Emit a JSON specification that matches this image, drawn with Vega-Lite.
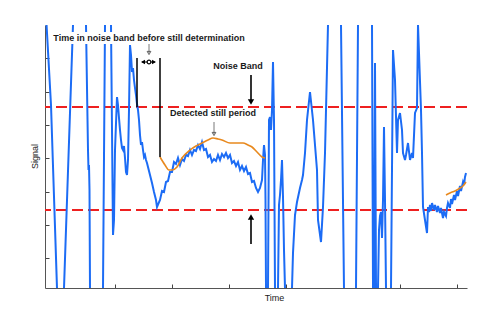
{
  "$schema": "https://vega.github.io/schema/vega-lite/v6.json",
  "width": 422,
  "height": 263,
  "autosize": {"type": "none"},
  "padding": {"left": 45, "top": 25, "right": 33, "bottom": 26},
  "background": "white",
  "config": {
    "view": {"stroke": null},
    "font": "Liberation Sans"
  },
  "datasets": {
    "blue": [
      {"t":1,"s":273},{"t":6,"s":183},{"t":12,"s":0},{"t":13,"s":-12},{"t":17,"s":-12},{"t":19,"s":0},{"t":28,"s":263},{"t":29,"s":275},
      {"t":40,"s":275},{"t":41,"s":263},{"t":43,"s":138},{"t":43.5,"s":118},{"t":44,"s":123},{"t":44.5,"s":98},{"t":45,"s":0},{"t":45.5,"s":-12},
      {"t":57,"s":-12},{"t":58,"s":0},{"t":60,"s":263},{"t":61,"s":275},{"t":65,"s":275},{"t":66,"s":263},{"t":68,"s":53},{"t":69,"s":68},
      {"t":70,"s":138},{"t":72,"s":191},{"t":73,"s":183},{"t":74,"s":170},{"t":75,"s":158},{"t":76,"s":148},{"t":77,"s":140},{"t":78,"s":138},
      {"t":79,"s":142},{"t":80,"s":130},{"t":81,"s":116},{"t":82,"s":113},{"t":83,"s":128},{"t":84,"s":178},{"t":85,"s":243},{"t":86,"s":233},
      {"t":87,"s":216},{"t":88,"s":220},{"t":89,"s":208},{"t":90,"s":200},{"t":91,"s":193},{"t":92,"s":184},{"t":93,"s":178},{"t":94,"s":168},
      {"t":95,"s":153},{"t":96,"s":143},{"t":97,"s":146},{"t":98,"s":138},{"t":99,"s":131},{"t":100,"s":133},{"t":101,"s":128},{"t":102,"s":125},
      {"t":103,"s":121},{"t":105,"s":113},{"t":107,"s":105},{"t":109,"s":96},{"t":111,"s":88},{"t":112,"s":81},
      {"t":115,"s":88},{"t":117,"s":97},{"t":119,"s":96},{"t":121,"s":106},{"t":123,"s":107},{"t":125,"s":116},{"t":127,"s":116},{"t":129,"s":126},
      {"t":131,"s":124},{"t":133,"s":130},{"t":135,"s":123},{"t":137,"s":129},{"t":139,"s":127},{"t":141,"s":133},{"t":143,"s":132},{"t":145,"s":138},
      {"t":147,"s":133},{"t":149,"s":138},{"t":151,"s":137},{"t":153,"s":143},{"t":155,"s":139},{"t":157,"s":146},{"t":159,"s":138},{"t":161,"s":139},
      {"t":163,"s":131},{"t":165,"s":133},{"t":167,"s":126},{"t":169,"s":129},{"t":171,"s":127},{"t":173,"s":133},{"t":175,"s":128},{"t":177,"s":134},
      {"t":179,"s":131},{"t":181,"s":135},{"t":183,"s":130},{"t":185,"s":133},{"t":187,"s":125},{"t":189,"s":127},{"t":191,"s":122},{"t":193,"s":126},
      {"t":195,"s":118},{"t":197,"s":122},{"t":199,"s":117},{"t":201,"s":121},{"t":203,"s":114},{"t":205,"s":115},{"t":207,"s":106},{"t":209,"s":107},
      {"t":211,"s":100},{"t":213,"s":96},{"t":215,"s":100},{"t":217,"s":108},{"t":218,"s":128},{"t":219,"s":143},{"t":220,"s":133},{"t":220.5,"s":88},
      {"t":221,"s":0},{"t":221.5,"s":-12},
      {"t":222,"s":-12},{"t":223,"s":0},{"t":224,"s":168},{"t":225,"s":171},{"t":226,"s":158},{"t":227,"s":178},{"t":228,"s":226},{"t":229,"s":168},
      {"t":230,"s":0},{"t":230.5,"s":-12},{"t":232,"s":-12},{"t":233,"s":0},{"t":234,"s":83},{"t":235,"s":93},{"t":236,"s":108},{"t":237,"s":128},
      {"t":238,"s":91},{"t":239,"s":38},{"t":240,"s":0},{"t":240.5,"s":-12},{"t":246,"s":-12},{"t":247,"s":0},{"t":248,"s":35},{"t":250,"s":73},
      {"t":252,"s":86},{"t":255,"s":100},{"t":257,"s":108},{"t":258,"s":113},{"t":260,"s":135},{"t":262,"s":168},{"t":265,"s":196},{"t":268,"s":168},
      {"t":272,"s":118},{"t":273,"s":68},{"t":276,"s":46},{"t":278,"s":81},{"t":280,"s":135},{"t":283,"s":263},{"t":284,"s":275},
      {"t":295,"s":275},{"t":296,"s":263},{"t":299,"s":0},{"t":299.5,"s":-12},{"t":310,"s":-12},{"t":311,"s":0},{"t":313,"s":263},{"t":314,"s":275},
      {"t":326,"s":275},{"t":327,"s":263},{"t":328,"s":0},{"t":328.5,"s":-12},{"t":329,"s":0},{"t":330,"s":225},{"t":331,"s":0},{"t":331.5,"s":-12},
      {"t":332,"s":-12},{"t":333,"s":0},{"t":334,"s":58},{"t":335,"s":72},{"t":336,"s":76},{"t":337,"s":50},{"t":338,"s":88},{"t":339,"s":161},
      {"t":340,"s":88},{"t":341,"s":0},{"t":341.5,"s":-12},{"t":345,"s":-12},{"t":346,"s":0},{"t":348,"s":238},{"t":350,"s":208},{"t":352,"s":135},
      {"t":353,"s":168},{"t":355,"s":175},{"t":357,"s":158},{"t":358,"s":135},{"t":360,"s":128},{"t":361,"s":133},{"t":363,"s":145},{"t":365,"s":128},
      {"t":367,"s":135},{"t":368,"s":130},{"t":370,"s":175},{"t":372,"s":180},{"t":373,"s":263},{"t":374,"s":235},{"t":376,"s":178},{"t":377,"s":135},
      {"t":378,"s":81},{"t":380,"s":68},{"t":382,"s":55},{"t":383,"s":81},{"t":384,"s":76},{"t":385,"s":83},{"t":386,"s":77},{"t":387,"s":85},
      {"t":389,"s":78},{"t":390,"s":83},{"t":392,"s":76},{"t":393,"s":82},{"t":395,"s":75},{"t":396,"s":80},{"t":398,"s":70},{"t":399,"s":76},
      {"t":401,"s":72},{"t":402,"s":80},{"t":403,"s":85},{"t":405,"s":80},{"t":406,"s":89},{"t":407,"s":84},{"t":409,"s":93},{"t":410,"s":88},
      {"t":412,"s":97},{"t":413,"s":92},{"t":415,"s":102},{"t":416,"s":97},{"t":418,"s":106},{"t":419,"s":103},{"t":420,"s":111},{"t":421,"s":115}
    ],
    "orange": [
      {"seg":1,"t":115,"s":131},{"seg":1,"t":120,"s":123},{"seg":1,"t":124,"s":118},{"seg":1,"t":127,"s":118},{"seg":1,"t":132,"s":121},
      {"seg":1,"t":137,"s":130},{"seg":1,"t":145,"s":138},{"seg":1,"t":151,"s":142},{"seg":1,"t":157,"s":145},{"seg":1,"t":163,"s":148},
      {"seg":1,"t":168,"s":150},{"seg":1,"t":173,"s":149},{"seg":1,"t":177,"s":148},{"seg":1,"t":185,"s":145},{"seg":1,"t":191,"s":145},
      {"seg":1,"t":198,"s":145},{"seg":1,"t":203,"s":143},{"seg":1,"t":207,"s":141},{"seg":1,"t":212,"s":136},{"seg":1,"t":217,"s":131},
      {"seg":1,"t":220,"s":130},
      {"seg":2,"t":401,"s":93},{"seg":2,"t":405,"s":95},{"seg":2,"t":410,"s":97},{"seg":2,"t":415,"s":100},{"seg":2,"t":418,"s":102},{"seg":2,"t":421,"s":106}
    ],
    "bands": [{"s":181},{"s":78}],
    "vlines": [{"t":92,"s1":230,"s2":181},{"t":115,"s1":230,"s2":131}],
    "shafts": [
      {"t":206,"s1":213,"s2":188},
      {"t":206,"s1":44,"s2":69}
    ],
    "thin": [
      {"t":169,"s1":166,"s2":154},
      {"t":104,"s1":244,"s2":235}
    ],
    "heads": [
      {"t":206,"s":186,"shape":"triangle-down"},
      {"t":206,"s":71,"shape":"triangle-up"}
    ],
    "smallheads": [
      {"t":169,"s":154,"shape":"triangle-down"},
      {"t":104,"s":235,"shape":"triangle-down"}
    ],
    "dbl": [{"t1":97,"t2":110,"s":226}],
    "dblheads": [
      {"t":98,"s":226,"shape":"triangle-left"},
      {"t":109,"s":226,"shape":"triangle-right"}
    ],
    "textbox": [{"t1":8,"t2":201,"s1":244,"s2":256}],
    "labels": [
      {"t":104,"s":250,"text":"Time in noise band before still determination"},
      {"t":193,"s":222,"text":"Noise Band"},
      {"t":168,"s":175,"text":"Detected still period"}
    ]
  },
  "layer": [
    {
      "data": {"name": "bands"},
      "mark": {"type": "rule", "color": "#ee2020", "strokeWidth": 2, "strokeDash": [11, 5]},
      "encoding": {
        "y": {"field": "s", "type": "quantitative", "scale": {"domain": [0, 263], "nice": false, "zero": false},
          "axis": {"title": "Signal", "labels": false, "values": [30, 63, 96, 130, 163, 196, 230], "tickSize": -4, "tickColor": "#444", "domainColor": "#555",
            "grid": false, "titleFont": "Liberation Sans", "titleFontSize": 9, "titleFontWeight": "normal", "titleColor": "#222",
            "titleX": -11, "titleY": 131, "titleAngle": -90, "titleAlign": "center", "titleBaseline": "middle"}}
      }
    },
    {
      "data": {"name": "blue"},
      "mark": {"type": "line", "color": "#1c6cf5", "strokeWidth": 2, "clip": true},
      "encoding": {
        "x": {"field": "t", "type": "quantitative", "scale": {"domain": [0, 422], "nice": false, "zero": false},
          "axis": {"title": "Time", "labels": false, "values": [70, 127, 184, 241, 298, 355, 412], "tickSize": -4, "tickColor": "#444", "domainColor": "#555",
            "grid": false, "titleFont": "Liberation Sans", "titleFontSize": 9, "titleFontWeight": "normal", "titleColor": "#222",
            "titleX": 229, "titleY": 9, "titleAlign": "center", "titleBaseline": "middle"}},
        "y": {"field": "s", "type": "quantitative"}
      }
    },
    {
      "data": {"name": "orange"},
      "mark": {"type": "line", "color": "#e8891e", "strokeWidth": 1.6, "interpolate": "monotone", "clip": true},
      "encoding": {
        "x": {"field": "t", "type": "quantitative"},
        "y": {"field": "s", "type": "quantitative"},
        "detail": {"field": "seg", "type": "nominal"}
      }
    },
    {
      "data": {"name": "vlines"},
      "mark": {"type": "rule", "color": "black", "strokeWidth": 1.5},
      "encoding": {
        "x": {"field": "t", "type": "quantitative"},
        "y": {"field": "s1", "type": "quantitative"},
        "y2": {"field": "s2"}
      }
    },
    {
      "data": {"name": "shafts"},
      "mark": {"type": "rule", "color": "black", "strokeWidth": 1.6},
      "encoding": {
        "x": {"field": "t", "type": "quantitative"},
        "y": {"field": "s1", "type": "quantitative"},
        "y2": {"field": "s2"}
      }
    },
    {
      "data": {"name": "thin"},
      "mark": {"type": "rule", "color": "#555", "strokeWidth": 0.8},
      "encoding": {
        "x": {"field": "t", "type": "quantitative"},
        "y": {"field": "s1", "type": "quantitative"},
        "y2": {"field": "s2"}
      }
    },
    {
      "data": {"name": "heads"},
      "mark": {"type": "point", "filled": true, "color": "black", "opacity": 1, "size": 40},
      "encoding": {
        "x": {"field": "t", "type": "quantitative"},
        "y": {"field": "s", "type": "quantitative"},
        "shape": {"field": "shape", "type": "nominal", "scale": null, "legend": null}
      }
    },
    {
      "data": {"name": "smallheads"},
      "mark": {"type": "point", "filled": false, "color": "#444", "opacity": 1, "size": 14, "strokeWidth": 0.8},
      "encoding": {
        "x": {"field": "t", "type": "quantitative"},
        "y": {"field": "s", "type": "quantitative"},
        "shape": {"field": "shape", "type": "nominal", "scale": null, "legend": null}
      }
    },
    {
      "data": {"name": "dbl"},
      "mark": {"type": "rule", "color": "black", "strokeWidth": 1},
      "encoding": {
        "x": {"field": "t1", "type": "quantitative"},
        "x2": {"field": "t2"},
        "y": {"field": "s", "type": "quantitative"}
      }
    },
    {
      "data": {"name": "dblheads"},
      "mark": {"type": "point", "filled": true, "color": "black", "opacity": 1, "size": 22},
      "encoding": {
        "x": {"field": "t", "type": "quantitative"},
        "y": {"field": "s", "type": "quantitative"},
        "shape": {"field": "shape", "type": "nominal", "scale": null, "legend": null}
      }
    },
    {
      "data": {"values": [{"t": 104, "s": 226}]},
      "mark": {"type": "point", "filled": true, "fill": "white", "stroke": "black", "strokeWidth": 1.2, "opacity": 1, "size": 14},
      "encoding": {
        "x": {"field": "t", "type": "quantitative"},
        "y": {"field": "s", "type": "quantitative"}
      }
    },
    {
      "data": {"name": "textbox"},
      "mark": {"type": "rect", "fill": "white", "stroke": null},
      "encoding": {
        "x": {"field": "t1", "type": "quantitative"},
        "x2": {"field": "t2"},
        "y": {"field": "s1", "type": "quantitative"},
        "y2": {"field": "s2"}
      }
    },
    {
      "data": {"name": "labels"},
      "mark": {"type": "text", "font": "Liberation Sans", "fontSize": 9, "fontWeight": "bold", "color": "#1a1a1a", "align": "center", "baseline": "middle"},
      "encoding": {
        "x": {"field": "t", "type": "quantitative"},
        "y": {"field": "s", "type": "quantitative"},
        "text": {"field": "text"}
      }
    }
  ]
}
